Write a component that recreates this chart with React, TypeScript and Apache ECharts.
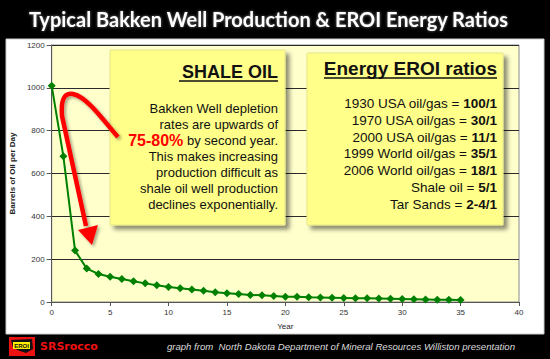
import React, { useEffect, useRef } from "react";
import * as echarts from "echarts";

const years = [0, 1, 2, 3, 4, 5, 6, 7, 8, 9, 10, 11, 12, 13, 14, 15, 16, 17, 18, 19, 20, 21, 22, 23, 24, 25, 26, 27, 28, 29, 30, 31, 32, 33, 34, 35];
const barrelsPerDay = [1010, 680, 240, 156, 131, 118, 107, 97, 87, 78, 70, 64, 58, 52, 46, 41, 37, 33, 31, 28, 25, 24, 22, 21, 20, 19, 18, 17, 16, 15, 14, 13, 12, 11, 10, 9];
const xTicks = { min: 0, max: 40, interval: 5 };
const yTicks = { min: 0, max: 1200, interval: 200 };

const shaleLines = [
  "Bakken Well depletion",
  "rates are upwards of",
  "{red|75-80%} by second year.",
  "This makes increasing",
  "production difficult as",
  "shale oil well production",
  "declines exponentially.",
];
const eroiLabels = [
  "1930 USA oil/gas = ",
  "1970 USA oil/gas = ",
  "2000 USA oil/gas = ",
  "1999 World oil/gas = ",
  "2006 World oil/gas = ",
  "Shale oil = ",
  "Tar Sands = ",
];
const eroiValues = ["100/1", "30/1", "11/1", "35/1", "18/1", "5/1", "2-4/1"];

const title = "Typical Bakken Well Production & EROI Energy Ratios";
const source = "graph from  North Dakota Department of Mineral Resources Williston presentation";

echarts.graphic.registerShape(
  "hookArrow",
  echarts.graphic.extendPath("M118,137 C106,124 88,97 73,94 C63,92 61,102 62,116 L86,226", {})
);

export default function App() {
  const ref = useRef<HTMLDivElement>(null);
  useEffect(() => {
    if (!ref.current) return;
    const chart = echarts.init(ref.current, null, { renderer: "svg" });
    const arial = "Liberation Sans, Arial, sans-serif";
    const boxShadow = { shadowBlur: 4, shadowOffsetX: 4, shadowOffsetY: 4, shadowColor: "rgba(0,0,0,0.45)" };
    const shaleTexts = shaleLines.map((line, i) => ({
      type: "text",
      z: 110,
      x: 278,
      y: 108 + i * 16,
      style: {
        text: line,
        align: "right",
        verticalAlign: "middle",
        fill: "#111",
        font: `13px ${arial}`,
        rich: {
          red: { fill: "#ff0000", fontWeight: "bold", fontSize: 16, fontFamily: arial },
        },
      },
    }));
    const eroiTexts = eroiLabels.map((label, i) => ({
      type: "text",
      z: 110,
      x: 497,
      y: 103.5 + i * 16.8,
      style: {
        text: `${label}{b|${eroiValues[i]}}`,
        align: "right",
        verticalAlign: "middle",
        fill: "#111",
        font: `13.5px ${arial}`,
        rich: {
          b: { fontWeight: "bold", fontSize: 13.5, fontFamily: arial, fill: "#111" },
        },
      },
    }));

    chart.setOption({
      animation: false,
      backgroundColor: "#000000",
      grid: {
        left: 48,
        right: 31,
        top: 45,
        bottom: 57,
        show: true,
        backgroundColor: "#FFFFCC",
        borderColor: "#8a8a8a",
        borderWidth: 1,
      },
      xAxis: {
        type: "value",
        min: xTicks.min,
        max: xTicks.max,
        interval: xTicks.interval,
        name: "Year",
        nameLocation: "middle",
        nameGap: 20,
        nameTextStyle: { fontSize: 8, color: "#222", fontFamily: arial },
        axisLine: { show: true, lineStyle: { color: "#555", width: 1 } },
        axisTick: { show: true, length: 4, lineStyle: { color: "#555" } },
        axisLabel: { fontSize: 8, color: "#333", fontFamily: arial, margin: 6, formatter: (v: number) => String(v) },
        splitLine: { show: false },
      },
      yAxis: {
        type: "value",
        min: yTicks.min,
        max: yTicks.max,
        interval: yTicks.interval,
        name: "Barrels of Oil per Day",
        nameLocation: "middle",
        nameRotate: 90,
        nameGap: 25,
        nameTextStyle: { fontSize: 8, fontWeight: "bold", color: "#222", fontFamily: arial },
        axisLine: { show: true, lineStyle: { color: "#555", width: 1 } },
        axisTick: { show: true, length: 5, lineStyle: { color: "#555" } },
        axisLabel: { fontSize: 8, color: "#333", fontFamily: arial, margin: 7, formatter: (v: number) => String(v) },
        splitLine: { show: true, lineStyle: { color: "#2a2a2a", width: 1 } },
      },
      series: [
        {
          type: "line",
          data: years.map((y, i) => [y, barrelsPerDay[i]]),
          lineStyle: { color: "#008000", width: 2 },
          itemStyle: { color: "#008000" },
          symbol: "diamond",
          symbolSize: 8,
          z: 5,
        },
      ],
      graphic: [
        { type: "rect", z: -100, shape: { x: 6, y: 39, width: 538, height: 295 }, style: { fill: "#ffffff", stroke: "#cccccc", lineWidth: 1 } },
        {
          type: "text",
          z: 100,
          x: 268.5,
          y: 19,
          style: {
            text: title,
            align: "center",
            verticalAlign: "middle",
            fill: "#ffffff",
            font: `bold 20px Lato, "Open Sans", sans-serif`,
            textShadowColor: "rgba(200,200,200,0.6)",
            textShadowBlur: 3,
          },
        },
        // Shale oil box
        { type: "rect", z: 100, shape: { x: 110, y: 50, width: 175, height: 175 }, style: { fill: "#FFFF8A", stroke: "#e6e68a", lineWidth: 1, ...boxShadow } },
        {
          type: "text",
          z: 110,
          x: 278,
          y: 72,
          style: { text: "SHALE OIL", align: "right", verticalAlign: "middle", fill: "#111", font: `bold 18px ${arial}` },
        },
        { type: "line", z: 110, shape: { x1: 179, y1: 81, x2: 278, y2: 81 }, style: { stroke: "#111", lineWidth: 1.5 } },
        ...shaleTexts,
        // EROI box
        { type: "rect", z: 100, shape: { x: 307, y: 53, width: 196, height: 172 }, style: { fill: "#FFFF8A", stroke: "#e6e68a", lineWidth: 1, ...boxShadow } },
        {
          type: "text",
          z: 110,
          x: 497,
          y: 68,
          style: { text: "Energy EROI ratios", align: "right", verticalAlign: "middle", fill: "#111", font: `bold 19px ${arial}` },
        },
        { type: "line", z: 110, shape: { x1: 324, y1: 78, x2: 497, y2: 78 }, style: { stroke: "#111", lineWidth: 1.5 } },
        ...eroiTexts,
        // red arrow
        {
          type: "hookArrow",
          z: 120,
          x: 0,
          y: 0,
          style: { stroke: "#ff0000", fill: "none", lineWidth: 4.5, shadowBlur: 3, shadowOffsetX: 2, shadowOffsetY: 2, shadowColor: "rgba(0,0,0,0.35)" },
        },
        {
          type: "polygon",
          z: 120,
          shape: { points: [[78, 230], [98, 225], [92, 245]] },
          style: { fill: "#ff0000", shadowBlur: 3, shadowOffsetX: 2, shadowOffsetY: 2, shadowColor: "rgba(0,0,0,0.35)" },
        },
        // footer logo
        { type: "rect", z: 100, shape: { x: 9, y: 337, width: 26, height: 19 }, style: { fill: "#ee1111" } },
        { type: "polygon", z: 101, shape: { points: [[11, 340], [32, 339], [33, 349], [26, 353], [20, 351], [13, 348]] }, style: { fill: "#111" } },
        { type: "rect", z: 102, shape: { x: 13, y: 342, width: 17, height: 7 }, style: { fill: "#ffee00" } },
        { type: "text", z: 103, x: 21.5, y: 345.5, style: { text: "EROI", align: "center", verticalAlign: "middle", fill: "#111", font: `bold 6px ${arial}` } },
        { type: "text", z: 100, x: 40, y: 346, style: { text: "SRSrocco", align: "left", verticalAlign: "middle", fill: "#ee1111", font: `bold 11px "DejaVu Sans", sans-serif` } },
        { type: "text", z: 100, x: 515, y: 346, style: { text: source, align: "right", verticalAlign: "middle", fill: "#dddddd", font: `italic 9.6px ${arial}` } },
      ],
    });
    return () => chart.dispose();
  }, []);
  return <div ref={ref} style={{ position: "absolute", left: 0, top: 0, width: 550, height: 359 }} />;
}
